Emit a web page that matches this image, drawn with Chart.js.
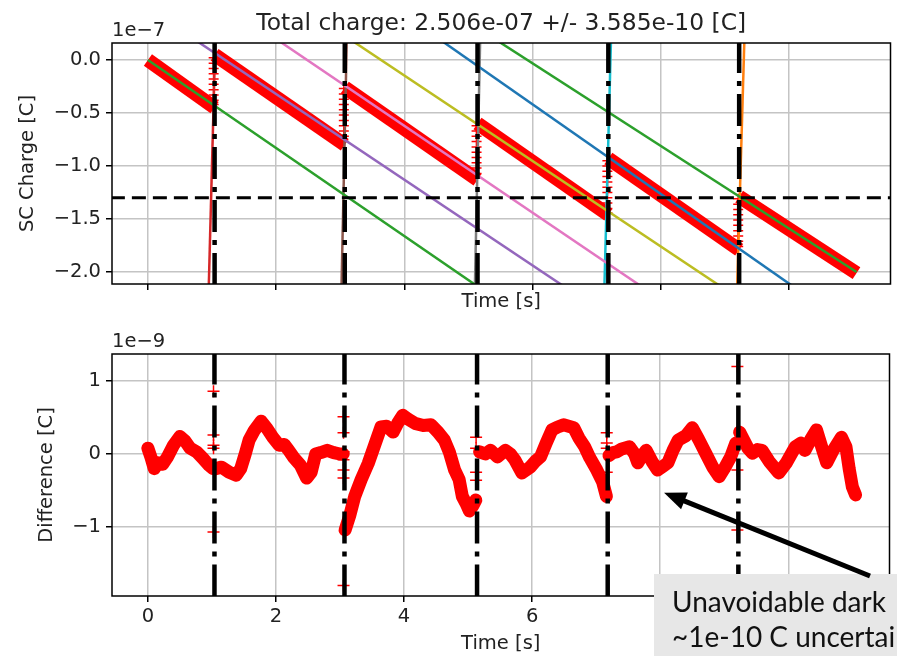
<!DOCTYPE html>
<html>
<head>
<meta charset="utf-8">
<script src="https://cdn.jsdelivr.net/npm/chart.js@4.4.0/dist/chart.umd.min.js"></script>
<style>
  html, body { margin: 0; padding: 0; background: #fff; }
  #wrap { position: relative; width: 897px; height: 656px; overflow: hidden; }
  #top { position: absolute; left: 0; top: 0; }
  #bottom { position: absolute; left: 0; top: 320px; }
</style>
</head>
<body>
<div id="wrap">
  <canvas id="top" width="897" height="320"></canvas>
  <canvas id="bottom" width="897" height="336"></canvas>
</div>
<script>
// axes
var xTicks = [0, 2, 4, 6, 8, 10];
var chargeTicks = [-2.0, -1.5, -1.0, -0.5, 0.0];
var diffTicks = [-1, 0, 1];
var xRange = [-0.56, 11.58];
var chargeRange = [-2.113, 0.16];   // x 1e-7 C
var diffRange = [-1.945, 1.37];     // x 1e-9 C
var threshold = -1.30;

// switching times (dash-dot lines)
var cuts = [1.04, 3.07, 5.14, 7.18, 9.22];

// measured SC charge, one straight run per segment (x 1e-7 C)
var segT0 = [0.0, 1.04, 3.07, 5.14, 7.18, 9.22];
var segT1 = [1.04, 3.07, 5.14, 7.18, 9.22, 11.05];
var segQ0 = [0.0, 0.05, -0.26, -0.60, -0.93, -1.29];
var segQ1 = [-0.45, -0.80, -1.13, -1.46, -1.79, -2.01];

// points caught during the switch
var jumpQ = [
  [0.02, -0.03, -0.08, -0.13, -0.18, -0.23, -0.28, -0.33, -0.38, -0.42],
  [-0.27, -0.32, -0.37, -0.42, -0.47, -0.52, -0.57, -0.62, -0.67, -0.72, -0.77],
  [-0.62, -0.67, -0.72, -0.77, -0.82, -0.87, -0.92, -0.97, -1.02, -1.07, -1.11],
  [-0.95, -1.0, -1.05, -1.1, -1.15, -1.2, -1.25, -1.3, -1.35, -1.4, -1.44],
  [-1.31, -1.36, -1.41, -1.46, -1.51, -1.56, -1.61, -1.66, -1.71, -1.76]
];

// linear fits of each segment, evaluated at fitT
var fitT = [0, 11.05];
var fitQ0 = [0.0, 0.487, 1.017, 1.466, 2.117, 2.305];
var fitQ1 = [-4.59, -3.98, -3.51, -2.99, -2.554, -2.0];
var fitColors = ['#2ca02c', '#9467bd', '#e377c2', '#bcbd22', '#1f77b4', '#2ca02c'];

// fits of the switching ramps
var rampT0 = [0.95, 3.02, 5.10, 7.12, 9.19];
var rampT1 = [1.05, 3.10, 5.18, 7.22, 9.30];
var rampColors = ['#d62728', '#8c564b', '#7f7f7f', '#17becf', '#ff7f0e'];

// difference data - fit, per segment (x 1e-9 C)
var diffT = [
  [0, 0.05, 0.1, 0.16, 0.23, 0.3, 0.4, 0.5, 0.58, 0.66, 0.76, 0.86, 0.95, 1.02],
  [1.06, 1.15, 1.27, 1.38, 1.45, 1.52, 1.58, 1.66, 1.77, 1.86, 1.95, 2.05, 2.13, 2.2, 2.28, 2.38, 2.48, 2.55, 2.62, 2.7, 2.8, 2.9, 3.0, 3.05],
  [3.08, 3.15, 3.23, 3.33, 3.44, 3.54, 3.64, 3.73, 3.83, 3.9, 3.98, 4.06, 4.17, 4.3, 4.42, 4.53, 4.63, 4.71, 4.79, 4.86, 4.91, 4.97, 5.02, 5.08, 5.12],
  [5.18, 5.27, 5.35, 5.46, 5.58, 5.66, 5.73, 5.84, 5.97, 6.05, 6.13, 6.22, 6.31, 6.4, 6.49, 6.57, 6.65, 6.73, 6.82, 6.9, 7.01, 7.1, 7.16],
  [7.2, 7.26, 7.32, 7.4, 7.52, 7.6, 7.65, 7.72, 7.78, 7.87, 7.96, 8.04, 8.12, 8.2, 8.28, 8.4, 8.5, 8.6, 8.71, 8.82, 8.92, 9.0, 9.1, 9.18],
  [9.24, 9.3, 9.37, 9.44, 9.52, 9.59, 9.7, 9.85, 9.97, 10.11, 10.2, 10.26, 10.35, 10.44, 10.52, 10.6, 10.7, 10.83, 10.9, 10.95, 11.0, 11.05]
];
var diffQ = [
  [0.08, -0.05, -0.2, -0.12, -0.14, -0.05, 0.12, 0.24, 0.18, 0.08, 0.03, -0.06, -0.15, -0.2],
  [-0.2, -0.18, -0.25, -0.29, -0.2, 0.0, 0.19, 0.32, 0.45, 0.35, 0.23, 0.12, 0.13, 0.05, -0.05, -0.15, -0.33, -0.25, 0.0, 0.02, 0.05, 0.02, 0.0, 0.0],
  [-1.04, -0.85, -0.58, -0.35, -0.13, 0.12, 0.37, 0.38, 0.3, 0.42, 0.53, 0.48, 0.42, 0.39, 0.4, 0.3, 0.19, 0.02, -0.22, -0.35, -0.58, -0.68, -0.78, -0.7, -0.63],
  [0.03, 0.0, 0.05, -0.04, 0.05, 0.0, -0.08, -0.26, -0.18, -0.1, -0.04, 0.15, 0.33, 0.37, 0.4, 0.38, 0.36, 0.22, 0.1, -0.05, -0.22, -0.38, -0.58],
  [-0.02, 0.02, 0.03, 0.07, 0.1, 0.0, -0.12, -0.02, 0.05, -0.1, -0.22, -0.17, -0.12, 0.05, 0.19, 0.25, 0.36, 0.2, 0.01, -0.18, -0.31, -0.2, -0.04, 0.15],
  [0.3, 0.2, 0.08, 0.01, 0.06, 0.05, -0.1, -0.26, -0.12, 0.1, 0.15, 0.05, 0.2, 0.33, 0.1, -0.12, 0.05, 0.23, 0.1, -0.2, -0.45, -0.56]
];
// switching outliers in the difference
var jumpD = [
  [0.86, 0.26, 0.12, 0.08, -1.07],
  [0.51, 0.29, 0.03, -0.08, -0.22, -0.33, -1.8],
  [0.23, 0.08, -0.25, -0.36],
  [0.29, 0.15, 0.08, -0.25],
  [1.2, -0.22, -1.04]
];

var FONT = 'DejaVu Sans';
var INK = '#222';
Chart.defaults.font.family = FONT;
Chart.defaults.font.size = 19.5;
Chart.defaults.color = INK;

function minus(s) { return String(s).replace('-', '\u2212'); }

function dashLines(yr) {
  return cuts.map(function (c) {
    return {
      type: 'line', data: [{x: c, y: yr[1] + 0.02}, {x: c, y: yr[0] - 1}],
      borderColor: '#000', borderWidth: 4.5, borderDash: [32, 8, 5, 8],
      pointRadius: 0, order: 0, clip: 0
    };
  });
}

function crosses(list) {
  var pts = [];
  list.forEach(function (ys, i) {
    ys.forEach(function (y) { pts.push({x: cuts[i] - 0.015, y: y}); });
  });
  return pts;
}

// frame, offset text, title and call-out
var frame = {
  id: 'frame',
  afterDraw: function (chart, args, o) {
    var a = chart.chartArea, ctx = chart.ctx;
    ctx.save();
    ctx.strokeStyle = '#000';
    ctx.lineWidth = 1.5;
    ctx.strokeRect(a.left, a.top, a.right - a.left, a.bottom - a.top);
    ctx.fillStyle = INK;
    ctx.font = '19.5px "' + FONT + '"';
    ctx.textAlign = 'left';
    ctx.textBaseline = 'alphabetic';
    ctx.fillText(o.offset, a.left, a.top - 7);
    if (o.title) {
      ctx.font = '23.4px "' + FONT + '"';
      ctx.textAlign = 'center';
      ctx.fillText(o.title, (a.left + a.right) / 2, 30);
    }
    if (o.note) {
      var x = chart.scales.x, y = chart.scales.y;
      ctx.fillStyle = '#e7e7e7';
      ctx.fillRect(654, 254, 250, 90);
      ctx.fillStyle = '#111';
      ctx.font = '28px Lato';
      ctx.textAlign = 'left';
      ctx.fillText(o.note[0], 672, 292);
      ctx.fillText(o.note[1], 672, 327);
      // arrow
      var hx = x.getPixelForValue(8.06), hy = y.getPixelForValue(-0.53);
      var tx = 870, ty = 256;
      var ang = Math.atan2(hy - ty, hx - tx);
      ctx.strokeStyle = '#000';
      ctx.lineWidth = 5;
      ctx.beginPath();
      ctx.moveTo(tx, ty);
      ctx.lineTo(hx - 15 * Math.cos(ang), hy - 15 * Math.sin(ang));
      ctx.stroke();
      ctx.fillStyle = '#000';
      ctx.beginPath();
      ctx.moveTo(hx, hy);
      ctx.lineTo(hx - 22 * Math.cos(ang) + 9 * Math.sin(ang), hy - 22 * Math.sin(ang) - 9 * Math.cos(ang));
      ctx.lineTo(hx - 22 * Math.cos(ang) - 9 * Math.sin(ang), hy - 22 * Math.sin(ang) + 9 * Math.cos(ang));
      ctx.closePath();
      ctx.fill();
    }
    ctx.restore();
  }
};

function xScale(height, showLabels, titlePad) {
  return {
    type: 'linear', min: xRange[0], max: xRange[1],
    afterBuildTicks: function (s) { s.ticks = xTicks.map(function (v) { return {value: v}; }); },
    afterFit: function (s) { s.height = height; },
    grid: { color: '#c4c4c4', lineWidth: 1.5, tickLength: 6, tickColor: '#000', tickWidth: 1.5 },
    border: { display: false },
    ticks: { display: showLabels, padding: 3, maxRotation: 0, callback: function (v) { return minus(v); } },
    title: { display: true, text: 'Time [s]', padding: {top: 0, bottom: titlePad} }
  };
}

function yScale(range, ticks, fmt, label, titlePad) {
  return {
    type: 'linear', min: range[0], max: range[1],
    afterBuildTicks: function (s) { s.ticks = ticks.map(function (v) { return {value: v}; }); },
    afterFit: function (s) { s.width = 112; },
    grid: { color: '#c4c4c4', lineWidth: 1.5, tickLength: 6, tickColor: '#000', tickWidth: 1.5 },
    border: { display: false },
    ticks: { padding: 5, callback: fmt },
    title: { display: true, text: label, padding: {top: titlePad, bottom: 0} }
  };
}

// ---------- top panel ----------
var topSets = dashLines(chargeRange);
topSets.push({
  type: 'line',
  data: [{x: xRange[0] - 1, y: threshold}, {x: xRange[1] + 1, y: threshold}],
  borderColor: '#000', borderWidth: 3, borderDash: [14, 7], pointRadius: 0, order: 0, clip: 0
});
fitQ0.forEach(function (q, i) {
  topSets.push({
    type: 'line', data: [{x: fitT[0], y: q}, {x: fitT[1], y: fitQ1[i]}],
    borderColor: fitColors[i], borderWidth: 2.5, pointRadius: 0, order: 1, clip: 0
  });
});
rampT0.forEach(function (t, i) {
  topSets.push({
    type: 'line', data: [{x: t, y: chargeRange[0]}, {x: rampT1[i], y: chargeRange[1]}],
    borderColor: rampColors[i], borderWidth: 2.5, pointRadius: 0, order: 1, clip: 0
  });
});
segT0.forEach(function (t, i) {
  topSets.push({
    type: 'line', data: [{x: t, y: segQ0[i]}, {x: segT1[i], y: segQ1[i]}],
    borderColor: '#ff0000', borderWidth: 14, borderCapStyle: 'butt',
    pointRadius: 0, pointHoverRadius: 0, order: 2, clip: 0
  });
});
topSets.push({
  type: 'scatter', data: crosses(jumpQ),
  pointStyle: 'cross', pointRadius: 5, borderColor: '#ff0000', borderWidth: 1.5,
  backgroundColor: '#ff0000', order: 2, clip: 0
});

new Chart(document.getElementById('top'), {
  type: 'line',
  data: { datasets: topSets },
  options: {
    responsive: false, animation: false,
    layout: { padding: {top: 43, right: 2, left: 0, bottom: 0} },
    plugins: {
      legend: { display: false }, tooltip: { enabled: false },
      frame: { offset: '1e\u22127', title: 'Total charge: 2.506e-07 +/- 3.585e-10 [C]' }
    },
    scales: {
      x: xScale(36, false, 6),
      y: yScale(chargeRange, chargeTicks, function (v) { return minus(v.toFixed(1)); }, 'SC Charge [C]', 16)
    }
  },
  plugins: [frame]
});

// ---------- bottom panel ----------
var botSets = dashLines(diffRange);
diffT.forEach(function (ts, i) {
  botSets.push({
    type: 'line', data: ts.map(function (t, k) { return {x: t, y: diffQ[i][k]}; }),
    borderColor: '#ff0000', borderWidth: 13, borderJoinStyle: 'round', borderCapStyle: 'round',
    pointRadius: 0, pointHoverRadius: 0, order: 2, clip: 0
  });
});
botSets.push({
  type: 'scatter', data: crosses(jumpD),
  pointStyle: 'cross', pointRadius: 6, borderColor: '#ff0000', borderWidth: 1.5,
  backgroundColor: '#ff0000', order: 1, clip: 0
});

new Chart(document.getElementById('bottom'), {
  type: 'line',
  data: { datasets: botSets },
  options: {
    responsive: false, animation: false,
    layout: { padding: {top: 34, right: 2, left: 0, bottom: 0} },
    plugins: {
      legend: { display: false }, tooltip: { enabled: false },
      frame: { offset: '1e\u22129', note: ['Unavoidable dark', '~1e-10 C uncertai'] }
    },
    scales: {
      x: xScale(60, true, 0),
      y: yScale(diffRange, diffTicks, function (v) { return minus(v); }, 'Difference [C]', 35)
    }
  },
  plugins: [frame]
});
</script>
</body>
</html>
